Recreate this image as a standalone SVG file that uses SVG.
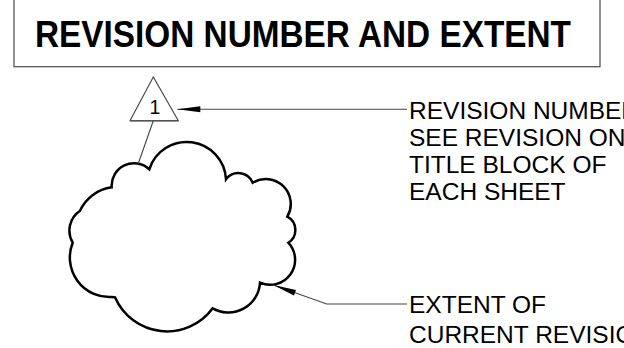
<svg xmlns="http://www.w3.org/2000/svg" width="624" height="348" viewBox="0 0 624 348">
<style>
.lbl{font-family:"Liberation Sans",Arial,sans-serif;font-size:24.5px;fill:#000}
.ttl{font-family:"Liberation Sans",Arial,sans-serif;font-weight:bold;font-size:36px;fill:#000}
.thin{fill:none;stroke:#444;stroke-width:1.1}
.cloud{fill:none;stroke:#000;stroke-width:2.5;stroke-linejoin:miter}
</style>
<defs>
<marker id="ah" markerUnits="userSpaceOnUse" markerWidth="30" markerHeight="10" refX="0" refY="5" orient="auto" overflow="visible">
<path d="M0,5 L23,2 L23,8 Z" fill="#000"/>
</marker>
</defs>
<rect width="624" height="348" fill="#fff"/>
<g id="title">
<rect x="14" y="-10" width="586" height="76.7" fill="#fff" stroke="#555" stroke-width="1.3"/>
<text class="ttl" x="35" y="46.5" textLength="536" lengthAdjust="spacingAndGlyphs">REVISION NUMBER AND EXTENT</text>
</g>
<g id="revision-tag">
<polygon class="thin" points="153.3,77 130,120.7 178.3,120.7"/>
<line x1="130" y1="120.7" x2="178.3" y2="120.7" stroke="#555" stroke-width="1.6"/>
<text x="155" y="113.5" text-anchor="middle" font-family="Liberation Sans, Arial, sans-serif" font-size="19.5" fill="#000">1</text>
</g>
<g id="cloud">
<path class="cloud" d="M111.7,187.3 A22.4,22.4 0 0 1 149.3,169.3 A39.3,39.3 0 0 1 226,179.3 A15.4,15.4 0 0 1 252.7,182.7 A25,25 0 0 1 287.3,216.7 A15,15 0 0 1 288.3,242.7 A25,25 0 0 1 260,282.7 A31.6,31.6 0 0 1 212.7,308.3 A56.7,56.7 0 0 1 115,297.3 L112,297 A39.6,39.6 0 0 1 72.7,242.7 A24,24 0 0 1 80,210.7 A41,41 0 0 1 111.7,187.3 Z"/>
</g>
<g id="label-revision">
<text class="lbl" x="409" y="119"><tspan x="409" y="119">REVISION NUMBER</tspan><tspan x="409" y="146">SEE REVISION ON</tspan><tspan x="409" y="173">TITLE BLOCK OF</tspan><tspan x="409" y="200">EACH SHEET</tspan></text>
</g>
<g id="label-extent">
<text class="lbl" x="409" y="312.7"><tspan x="409" y="312.7">EXTENT OF</tspan><tspan x="409" y="343.3">CURRENT REVISION</tspan></text>
</g>
<g id="connectors">
<line class="thin" x1="153.3" y1="120.7" x2="138.3" y2="163.5"/>
<path class="thin" d="M177.3,109.3 L407,109.3" marker-start="url(#ah)"/>
<path class="thin" d="M273.3,285 L326.7,304 L407,304" marker-start="url(#ah)"/>
</g>
</svg>
